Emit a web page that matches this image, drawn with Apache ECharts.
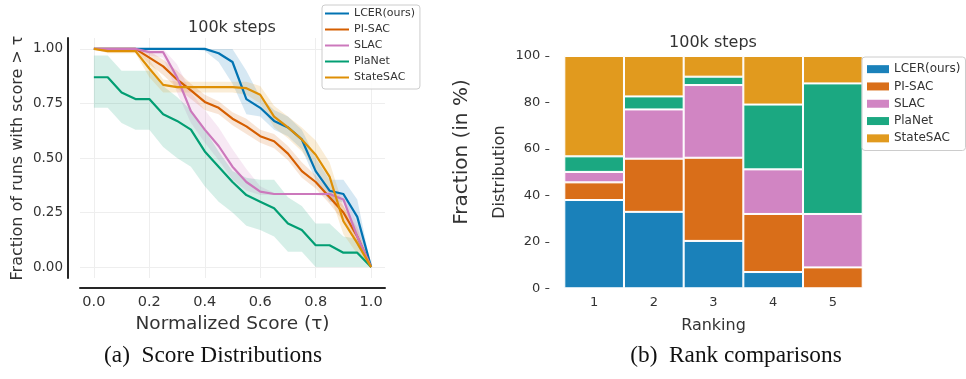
<!DOCTYPE html>
<html>
<head>
<meta charset="utf-8">
<script src="https://cdn.jsdelivr.net/npm/echarts@6/dist/echarts.min.js"></script>
<style>
  html, body { margin: 0; padding: 0; background: #fff; }
  #chart { width: 966px; height: 379px; }
</style>
</head>
<body>
<div id="chart"></div>
<script>
// (a) score distributions: tau steps and fraction of runs with score > tau
const tau = [0, 0.05, 0.1, 0.15, 0.2, 0.25, 0.3, 0.35, 0.4, 0.45, 0.5, 0.55, 0.6, 0.65, 0.7, 0.75, 0.8, 0.85, 0.9, 0.95, 1.0]
const xTicks = [0, 0.2, 0.4, 0.6, 0.8, 1.0]
const yTicks = [0, 0.25, 0.5, 0.75, 1.0]

const lcerMean = [1, 1, 1, 1, 1, 1, 1, 1, 1, 0.98, 0.94, 0.77, 0.73, 0.67, 0.64, 0.585, 0.44, 0.35, 0.335, 0.23, 0]
const lcerLo   = [1, 1, 1, 1, 1, 1, 1, 1, 0.99, 0.94, 0.84, 0.70, 0.69, 0.63, 0.60, 0.54, 0.40, 0.30, 0.30, 0.14, 0]
const lcerHi   = [1, 1, 1, 1, 1, 1, 1, 1, 1, 1, 1, 0.90, 0.78, 0.72, 0.69, 0.63, 0.50, 0.40, 0.40, 0.31, 0]

const piSacMean = [1, 1, 1, 1, 0.96, 0.92, 0.86, 0.81, 0.757, 0.73, 0.68, 0.645, 0.60, 0.577, 0.52, 0.44, 0.39, 0.32, 0.25, 0.14, 0]
const piSacLo   = [1, 1, 1, 0.99, 0.93, 0.88, 0.82, 0.77, 0.72, 0.70, 0.65, 0.61, 0.57, 0.545, 0.49, 0.41, 0.36, 0.29, 0.21, 0.10, 0]
const piSacHi   = [1, 1, 1, 1, 0.99, 0.95, 0.90, 0.84, 0.79, 0.76, 0.71, 0.68, 0.63, 0.61, 0.555, 0.48, 0.42, 0.35, 0.28, 0.18, 0]

const slacMean = [1, 1, 1, 1, 0.985, 0.985, 0.87, 0.715, 0.63, 0.555, 0.46, 0.39, 0.346, 0.335, 0.335, 0.335, 0.335, 0.335, 0.31, 0.14, 0]
const slacLo   = [1, 1, 1, 1, 0.97, 0.96, 0.80, 0.66, 0.57, 0.49, 0.40, 0.35, 0.33, 0.33, 0.33, 0.33, 0.33, 0.32, 0.27, 0.10, 0]
const slacHi   = [1, 1, 1, 1, 1, 1, 0.93, 0.80, 0.72, 0.64, 0.54, 0.45, 0.37, 0.34, 0.34, 0.34, 0.34, 0.345, 0.34, 0.20, 0]

const planetMean = [0.87, 0.87, 0.80, 0.77, 0.77, 0.70, 0.67, 0.63, 0.53, 0.46, 0.39, 0.33, 0.30, 0.27, 0.20, 0.17, 0.10, 0.10, 0.066, 0.066, 0]
const planetLo   = [0.73, 0.73, 0.66, 0.63, 0.63, 0.55, 0.50, 0.46, 0.37, 0.30, 0.25, 0.19, 0.17, 0.14, 0.07, 0.07, 0, 0, 0, 0, 0]
const planetHi   = [0.97, 0.97, 0.90, 0.90, 0.90, 0.83, 0.78, 0.72, 0.63, 0.53, 0.44, 0.41, 0.40, 0.40, 0.32, 0.28, 0.20, 0.20, 0.14, 0.13, 0]

const stateSacMean = [1, 0.99, 0.99, 0.99, 0.91, 0.835, 0.825, 0.825, 0.825, 0.825, 0.825, 0.82, 0.79, 0.69, 0.64, 0.585, 0.515, 0.415, 0.21, 0.11, 0]
const stateSacLo   = [1, 0.98, 0.98, 0.98, 0.87, 0.80, 0.80, 0.80, 0.80, 0.80, 0.80, 0.79, 0.75, 0.64, 0.59, 0.53, 0.45, 0.34, 0.15, 0.06, 0]
const stateSacHi   = [1, 1, 1, 1, 0.95, 0.86, 0.85, 0.85, 0.85, 0.85, 0.85, 0.85, 0.83, 0.74, 0.69, 0.64, 0.58, 0.48, 0.28, 0.16, 0]

// (b) rank comparisons, in %
const ranks = ['1', '2', '3', '4', '5']
const lcerRank     = [38.0, 32.9, 20.4, 7.0, 0]
const piSacRank    = [7.6, 22.9, 35.8, 25.0, 9.0]
const slacRank     = [4.5, 21.2, 31.3, 19.2, 23.0]
const planetRank   = [6.7, 5.6, 3.6, 27.9, 56.2]
const stateSacRank = [43.2, 17.4, 8.9, 20.9, 11.8]

const methods = [
  { name: 'LCER(ours)', color: '#0173b2', bar: 'rgba(1,115,178,0.9)', mean: lcerMean, lo: lcerLo, hi: lcerHi, rank: lcerRank },
  { name: 'PI-SAC', color: '#d55e00', bar: 'rgba(213,94,0,0.9)', mean: piSacMean, lo: piSacLo, hi: piSacHi, rank: piSacRank },
  { name: 'SLAC', color: '#cc78bc', bar: 'rgba(204,120,188,0.9)', mean: slacMean, lo: slacLo, hi: slacHi, rank: slacRank },
  { name: 'PlaNet', color: '#029e73', bar: 'rgba(2,158,115,0.9)', mean: planetMean, lo: planetLo, hi: planetHi, rank: planetRank },
  { name: 'StateSAC', color: '#de8f05', bar: 'rgba(222,143,5,0.9)', mean: stateSacMean, lo: stateSacLo, hi: stateSacHi, rank: stateSacRank }
]

// category axis padded by half a step on each side (xlim -0.05 .. 1.05)
const xCats = ['-0.05'].concat(tau.map(t => t.toFixed(2)), ['1.05'])
const pad = arr => [null].concat(arr, [null])
const isXTick = (i, v) => xTicks.some(t => Math.abs(t - parseFloat(v)) < 1e-6)

const txt = '#333'
const font = 'DejaVu Sans'

const series = []
// shaded bands: lower bound + (upper - lower) stacked
methods.forEach((m, k) => {
  series.push({
    type: 'line', stack: 'band' + k, data: pad(m.lo), symbol: 'none',
    lineStyle: { opacity: 0 }, silent: true, z: 1
  })
  series.push({
    type: 'line', stack: 'band' + k, data: pad(m.hi.map((h, i) => h - m.lo[i])), symbol: 'none',
    lineStyle: { opacity: 0 }, areaStyle: { color: m.color, opacity: 0.16 }, silent: true, z: 1
  })
})
methods.forEach(m => {
  series.push({
    name: m.name, type: 'line', data: pad(m.mean), symbol: 'none',
    lineStyle: { color: m.color, width: 2.2 }, itemStyle: { color: m.color }, z: 3
  })
})
methods.forEach(m => {
  series.push({
    name: m.name, type: 'bar', xAxisIndex: 1, yAxisIndex: 1, stack: 'rank', data: m.rank,
    barCategoryGap: 0, itemStyle: { color: m.bar, borderColor: '#fff', borderWidth: 1 }
  })
})

const chart = echarts.init(document.getElementById('chart'))
chart.setOption({
  animation: false,
  textStyle: { fontFamily: font },
  title: [
    { text: '100k steps', left: 232, top: 20, textAlign: 'center', padding: 0,
      textStyle: { fontSize: 16, fontWeight: 'normal', color: txt, fontFamily: font } },
    { text: '100k steps', left: 713, top: 35, textAlign: 'center', padding: 0,
      textStyle: { fontSize: 16, fontWeight: 'normal', color: txt, fontFamily: font } }
  ],
  legend: [
    {
      left: 322, top: 5, orient: 'vertical', icon: 'rect', itemWidth: 24, itemHeight: 2, itemGap: 3,
      padding: [2, 5, 5, 3], backgroundColor: 'rgba(255,255,255,0.85)', borderColor: '#cccccc',
      borderWidth: 1, borderRadius: 3,
      textStyle: { fontSize: 11, color: txt, fontFamily: font, lineHeight: 13 },
      data: methods.map(m => ({ name: m.name, itemStyle: { color: m.color } }))
    },
    {
      left: 862, top: 57, orient: 'vertical', icon: 'rect', itemWidth: 22, itemHeight: 8, itemGap: 3,
      padding: [5, 5, 5, 5], backgroundColor: 'rgba(255,255,255,0.85)', borderColor: '#cccccc',
      borderWidth: 1, borderRadius: 3,
      textStyle: { fontSize: 12, color: txt, fontFamily: font, lineHeight: 14.3 },
      data: methods.map(m => ({ name: m.name, itemStyle: { color: m.bar } }))
    }
  ],
  grid: [
    { left: 80, top: 38, width: 305, height: 240 },
    { left: 564.3, top: 56, width: 298.4, height: 232.3 }
  ],
  xAxis: [
    {
      type: 'category', gridIndex: 0, data: xCats, boundaryGap: false, offset: 10,
      axisLine: { show: true, onZero: false, lineStyle: { color: '#262626', width: 2 } },
      axisTick: { show: false },
      axisLabel: { interval: isXTick, formatter: v => parseFloat(v).toFixed(1), margin: 7,
        fontSize: 14.5, color: txt, fontFamily: font },
      splitLine: { show: true, interval: isXTick, lineStyle: { color: '#eeeeee', width: 1 } },
      name: 'Normalized Score (τ)', nameLocation: 'middle', nameGap: 26,
      nameTextStyle: { fontSize: 18.5, color: txt, fontFamily: font }
    },
    {
      type: 'category', gridIndex: 1, data: ranks,
      axisLine: { show: false }, axisTick: { show: false },
      axisLabel: { margin: 8, fontSize: 13, color: txt, fontFamily: font },
      name: 'Ranking', nameLocation: 'middle', nameGap: 30,
      nameTextStyle: { fontSize: 16, color: txt, fontFamily: font }
    }
  ],
  yAxis: [
    {
      type: 'value', gridIndex: 0, min: -0.05, max: 1.05, offset: 12,
      axisLine: { show: true, onZero: false, lineStyle: { color: '#262626', width: 2 } },
      axisTick: { show: false, customValues: yTicks },
      axisLabel: { customValues: yTicks, formatter: v => v.toFixed(2), margin: 5,
        fontSize: 13.5, color: txt, fontFamily: font },
      splitLine: { show: true, lineStyle: { color: '#eeeeee', width: 1 } },
      name: 'Fraction of runs with score > τ', nameLocation: 'middle', nameGap: 42,
      nameTextStyle: { fontSize: 16, color: txt, fontFamily: font }
    },
    {
      type: 'value', gridIndex: 1, min: 0, max: 100, interval: 20, offset: 15,
      axisLine: { show: false },
      axisTick: { show: true, length: 4, lineStyle: { color: '#444' } },
      axisLabel: { margin: 9, fontSize: 13, color: txt, fontFamily: font },
      splitLine: { show: false },
      name: 'Distribution', nameLocation: 'middle', nameGap: 41,
      nameTextStyle: { fontSize: 16, color: txt, fontFamily: font }
    }
  ],
  graphic: [
    { type: 'text', x: 462, y: 152, rotation: Math.PI / 2,
      style: { text: 'Fraction (in %)', fill: txt, font: '20px "DejaVu Sans"', textAlign: 'center', textVerticalAlign: 'middle' } },
    { type: 'text', x: 213, y: 356, scaleX: 0.97,
      style: { text: '(a)  Score Distributions', fill: '#111', font: '24px "Liberation Serif"', textAlign: 'center', textVerticalAlign: 'middle' } },
    { type: 'text', x: 736, y: 356, scaleX: 0.97,
      style: { text: '(b)  Rank comparisons', fill: '#111', font: '24px "Liberation Serif"', textAlign: 'center', textVerticalAlign: 'middle' } }
  ],
  series: series
})
</script>
</body>
</html>
